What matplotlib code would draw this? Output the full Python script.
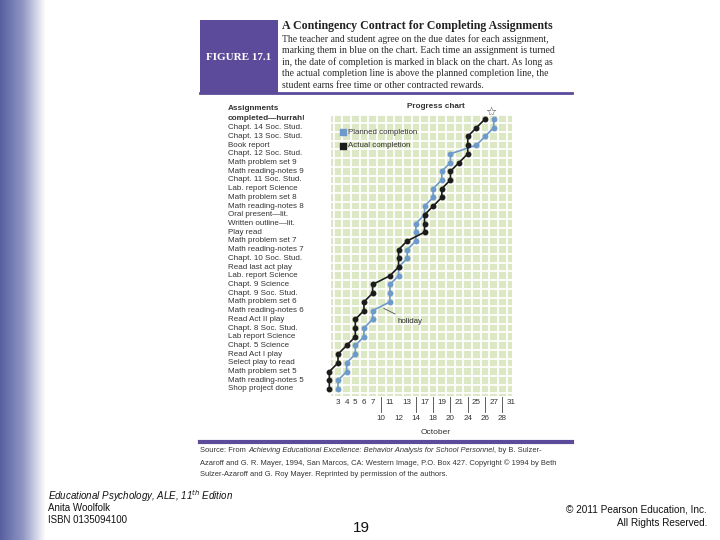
import numpy as np
import matplotlib
matplotlib.use("Agg")
import matplotlib.pyplot as plt

W, H = 720, 540

# assignments, bottom (1) to top (31)
assignments = ["Shop project done", "Math reading-notes 5", "Math problem set 5",
               "Select play to read", "Read Act I play", "Chapt. 5 Science",
               "Lab report Science", "Chapt. 8 Soc. Stud.", "Read Act II play",
               "Math reading-notes 6", "Math problem set 6", "Chapt. 9 Soc. Stud.",
               "Chapt. 9 Science", "Lab. report Science", "Read last act play",
               "Chapt. 10 Soc. Stud.", "Math reading-notes 7", "Math problem set 7",
               "Play read", "Written outline\u2014lit.", "Oral present\u2014lit.",
               "Math reading-notes 8", "Math problem set 8", "Lab. report Science",
               "Chapt. 11 Soc. Stud.", "Math reading-notes 9", "Math problem set 9",
               "Chapt. 12 Soc. Stud.", "Book report", "Chapt. 13 Soc. Stud.",
               "Chapt. 14 Soc. Stud."]

# school days of October (column index 0..20)
days = ["3", "4", "5", "6", "7", "10", "11", "12", "13", "14", "17", "18", "19",
        "20", "21", "24", "25", "26", "27", "28", "31"]
lower_row = ["10", "12", "14", "18", "20", "24", "26", "28"]
week_ticks = ["10", "14", "18", "20", "24", "26", "28"]

# planned completion (blue): column index, count of assignments
planned_day = [0, 0, 1, 1, 2, 2, 3, 3, 4, 4, 6, 6, 6, 7, 7, 8, 8, 9, 9, 9, 10, 10,
               11, 11, 12, 12, 13, 13, 16, 17, 18, 18]
planned_n = list(range(1, 33))

# actual completion (black)
actual_day = [-1, -1, -1, 0, 0, 1, 2, 2, 2, 3, 3, 4, 4, 6, 7, 7, 7, 8, 10, 10, 10,
              11, 12, 12, 13, 13, 14, 15, 15, 15, 16, 17]
actual_n = list(range(1, 33))

source_parts = [("Source: From ", "normal"),
                ("Achieving Educational Excellence: Behavior Analysis for School Personnel", "italic"),
                (", by B. Sulzer-", "normal")]
source_lines = ["Azaroff and G. R. Mayer, 1994, San Marcos, CA: Western Image, P.O. Box 427. Copyright \u00a9 1994 by Beth",
                "Sulzer-Azaroff and G. Roy Mayer. Reprinted by permission of the authors."]

caption = ["The teacher and student agree on the due dates for each assignment,",
           "marking them in blue on the chart. Each time an assignment is turned",
           "in, the date of completion is marked in black on the chart. As long as",
           "the actual completion line is above the planned completion line, the",
           "student earns free time or other contracted rewards."]

purple = "#5b4b9a"
blue = "#6e9acb"
black = "#1c1c1c"
green = "#dbe8c3"
txt = "#333333"
sans = ["Liberation Sans", "DejaVu Sans"]
serif = ["Liberation Serif", "DejaVu Serif"]


def fx(x):
    return x / W


def fy(y):
    return 1 - y / H


fig = plt.figure(figsize=(7.2, 5.4), dpi=100)

# page layer in pixel coordinates
bg = fig.add_axes([0, 0, 1, 1])
bg.set_xlim(0, W)
bg.set_ylim(H, 0)
bg.axis("off")
grad = np.linspace(0, 1, 64)[None, :]
cmap = matplotlib.colors.LinearSegmentedColormap.from_list("bar", ["#575fa0", "#9097c4", "#ffffff"])
bg.imshow(grad, extent=[0, 46, H, 0], aspect="auto", cmap=cmap)

# header
bg.add_patch(plt.Rectangle((200, 20), 78, 73, color=purple, lw=0))
bg.plot([200, 572], [93, 93], color=purple, lw=2)
bg.plot([200, 572], [442, 442], color=purple, lw=3)
bg.text(239, 58, "FIGURE 17.1", color="white", fontsize=8, fontweight="bold",
        family=serif, ha="center", va="center")
bg.text(282, 26, "A Contingency Contract for Completing Assignments", fontsize=8.6,
        fontweight="bold", family=serif, va="center", color="#222222")
for i, line in enumerate(caption):
    bg.text(282, 39 + i * 11.6, line, fontsize=7.0, family=serif, va="center", color="#2a2a2a")

# chart axes: column k at 338 + 8.65 k px, row n at 389 - 8.71 (n - 1) px
x0, dx = 338.0, 8.65
y0, dy = 389.0, 8.71
ax_l, ax_r, ax_t, ax_b = 331, 512, 115, 396
ax = fig.add_axes([fx(ax_l), fy(ax_b), (ax_r - ax_l) / W, (ax_b - ax_t) / H])
ax.set_xlim((ax_l - x0) / dx, (ax_r - x0) / dx)
ax.set_ylim(1 - (ax_b - y0) / dy, 1 + (y0 - ax_t) / dy)
ax.set_facecolor(green)
for s in ax.spines.values():
    s.set_visible(False)
ax.set_xticks([])
ax.set_yticks([])
for k in np.arange(-1, 21) + 0.5:
    ax.axvline(k, color="white", lw=1.3, zorder=1)
for n in np.arange(0, 33) + 0.5:
    ax.axhline(n, color="white", lw=1.3, zorder=1)

ax.plot(planned_day, planned_n, color=blue, lw=1.2, marker="o", ms=3.2, zorder=3, clip_on=False)
ax.plot(actual_day, actual_n, color=black, lw=1.2, marker="o", ms=3.2, zorder=4, clip_on=False)

# legend
ax.scatter([0.6], [30.45], marker="s", s=22, color=blue, zorder=5)
ax.scatter([0.6], [28.95], marker="s", s=22, color=black, zorder=5)
ax.text(1.1, 30.45, "Planned completion", fontsize=5.7, family=sans, va="center", color=txt)
ax.text(1.1, 28.95, "Actual completion", fontsize=5.7, family=sans, va="center", color=txt)

# holiday note
ax.annotate("holiday", xy=(5, 10.4), xytext=(6.9, 8.75), fontsize=5.7, family=sans,
            color=txt, va="center",
            arrowprops=dict(arrowstyle="-", color="#555555", lw=0.6))

# star at the end, chart title
bg.text(491, 112, "\u2606", fontsize=9, ha="center", va="center", color="#444444",
        family=["DejaVu Sans"])
bg.text(436, 106, "Progress chart", fontsize=5.9, family=sans, fontweight="bold",
        ha="center", va="center", color=txt)

# y labels
bg.text(228, 108, "Assignments", fontsize=5.9, family=sans, fontweight="bold", va="center", color=txt)
bg.text(228, 118, "completed\u2014hurrah!", fontsize=5.9, family=sans, fontweight="bold",
        va="center", color=txt)
for i, name in enumerate(assignments):
    bg.text(228, y0 - i * dy, name, fontsize=5.8, family=sans, va="center", color=txt)

# x labels
for k, d in enumerate(days):
    px = x0 + k * dx
    if d in lower_row:
        bg.text(px, 419, d, fontsize=5.8, family=sans, ha="center", va="center", color=txt)
    else:
        bg.text(px, 403, d, fontsize=5.8, family=sans, ha="center", va="center", color=txt)
    if d in week_ticks:
        bg.plot([px, px], [397, 412], color="#444444", lw=0.6)
bg.text(436, 432, "October", fontsize=6.0, family=sans, ha="center", va="center", color=txt)

# source note
fig.canvas.draw()
r = fig.canvas.get_renderer()
xp = 200
for part, st in source_parts:
    t = bg.text(xp, 451, part, fontsize=5.4, family=sans, style=st, va="center", color=txt)
    xp += t.get_window_extent(renderer=r).width
for i, line in enumerate(source_lines):
    bg.text(200, 463 + i * 12, line, fontsize=5.4, family=sans, va="center", color=txt)

# slide footer
bg.text(48, 496, "Educational Psychology, ALE, 11$^{th}$ Edition", fontsize=7.0, family=sans,
        style="italic", va="center", color="#111111")
bg.text(48, 508, "Anita Woolfolk", fontsize=7.0, family=sans, va="center", color="#111111")
bg.text(48, 520, "ISBN 0135094100", fontsize=7.0, family=sans, va="center", color="#111111")
bg.text(361, 528, "19", fontsize=11, family=sans, ha="center", va="center", color="#111111")
bg.text(707, 510, "\u00a9 2011 Pearson Education, Inc.", fontsize=7.2, family=sans,
        ha="right", va="center", color="#111111")
bg.text(707, 523, "All Rights Reserved.", fontsize=7.2, family=sans, ha="right", va="center",
        color="#111111")

fig.savefig("out.png", dpi=100)
